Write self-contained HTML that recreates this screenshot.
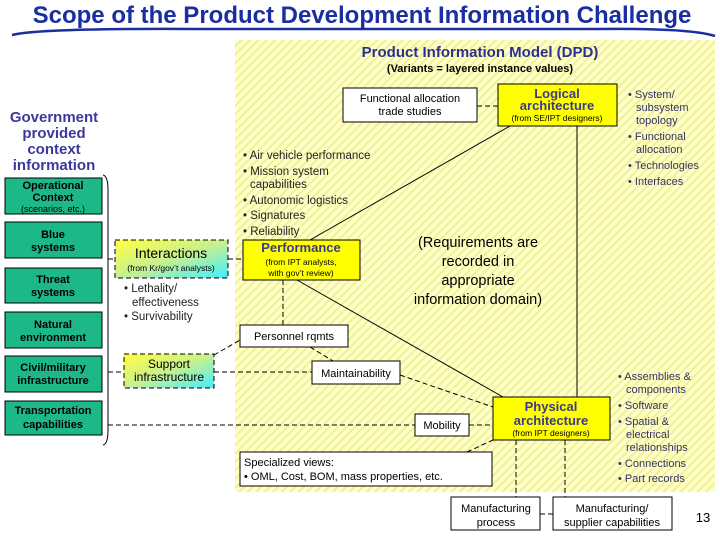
<!DOCTYPE html>
<html><head><meta charset="utf-8"><style>
body{margin:0;background:#fff;}
svg{display:block;font-family:"Liberation Sans",Arial,sans-serif;}
</style></head><body>
<svg width="720" height="540" viewBox="0 0 720 540" xmlns="http://www.w3.org/2000/svg">
<defs>
<pattern id="h" width="6" height="6" patternUnits="userSpaceOnUse" patternTransform="rotate(45)">
<rect width="6" height="6" fill="#ffffc8"/><rect width="2" height="6" fill="#f0f098"/>
</pattern>
<linearGradient id="g" x1="0" y1="0" x2="1" y2="1">
<stop offset="0" stop-color="#ffff40"/><stop offset="0.5" stop-color="#c8f090"/><stop offset="1" stop-color="#40f0ff"/>
</linearGradient>
</defs>
<text x="362" y="23" text-anchor="middle" font-size="24" font-weight="bold" fill="#1a2ea0">Scope of the Product Development Information Challenge</text>
<path d="M12,35 Q40,28 200,29 L600,29 Q690,28 715,36" stroke="#1a2ea0" stroke-width="2.5" fill="none"/>
<rect x="235" y="40" width="480" height="452" fill="url(#h)"/>
<text x="480" y="57" text-anchor="middle" font-size="15" font-weight="bold" fill="#2a3090">Product Information Model (DPD)</text>
<text x="480" y="72" text-anchor="middle" font-size="11" font-weight="bold">(Variants = layered instance values)</text>

<g font-size="12" fill="#3a3a9a" font-weight="bold" text-anchor="middle">
<text x="54" y="122" font-size="15">Government</text><text x="54" y="138" font-size="15">provided</text><text x="54" y="154" font-size="15">context</text><text x="54" y="170" font-size="15">information</text>
</g>
<g stroke="#000" stroke-width="1" fill="#1cb888">
<rect x="5" y="178" width="97" height="36"/><rect x="5" y="222" width="97" height="36"/><rect x="5" y="268" width="97" height="35"/>
<rect x="5" y="312" width="97" height="36"/><rect x="5" y="356" width="97" height="36"/><rect x="5" y="401" width="97" height="34"/>
</g>
<g font-size="11" font-weight="bold" text-anchor="middle">
<text x="53" y="189">Operational</text><text x="53" y="201">Context</text><text x="53" y="212" font-size="9" font-weight="normal">(scenarios, etc.)</text>
<text x="53" y="238">Blue</text><text x="53" y="251">systems</text>
<text x="53" y="283">Threat</text><text x="53" y="296">systems</text>
<text x="53" y="328">Natural</text><text x="53" y="341">environment</text>
<text x="53" y="371">Civil/military</text><text x="53" y="384">infrastructure</text>
<text x="53" y="414">Transportation</text><text x="53" y="428">capabilities</text>
</g>
<path d="M103,175 Q108,176 108,190 L108,430 Q108,444 103,445" stroke="#000" fill="none"/>

<g stroke="#000" stroke-width="1" fill="none">
<line x1="510" y1="126" x2="310" y2="240"/>
<line x1="577" y1="126" x2="577" y2="397"/>
<line x1="297" y1="280" x2="503" y2="397"/>
</g>
<g stroke="#000" stroke-width="1" fill="none" stroke-dasharray="5,3">
<line x1="477" y1="106" x2="498" y2="106"/>
<line x1="108" y1="259" x2="115" y2="259"/>
<line x1="228" y1="259" x2="243" y2="259"/>
<line x1="283" y1="280" x2="283" y2="325"/>
<line x1="310" y1="347" x2="333" y2="361"/>
<line x1="214" y1="355" x2="240" y2="340"/>
<line x1="108" y1="372" x2="124" y2="372"/>
<line x1="214" y1="372" x2="312" y2="372"/>
<line x1="400" y1="375" x2="493" y2="407"/>
<line x1="108" y1="425" x2="415" y2="425"/>
<line x1="469" y1="425" x2="493" y2="425"/>
<line x1="467" y1="452" x2="493" y2="440"/>
<line x1="516" y1="440" x2="516" y2="497"/>
<line x1="565" y1="440" x2="565" y2="497"/>
<line x1="540" y1="514" x2="553" y2="514"/>
<rect x="115" y="240" width="113" height="38" fill="url(#g)"/>
<rect x="124" y="354" width="90" height="34" fill="url(#g)"/>
</g>
<g stroke="#000" stroke-width="1" fill="#fff">
<rect x="343" y="88" width="134" height="34"/>
<rect x="240" y="325" width="108" height="22"/>
<rect x="312" y="361" width="88" height="23"/>
<rect x="415" y="414" width="54" height="22"/>
<rect x="240" y="452" width="252" height="34"/>
<rect x="451" y="497" width="89" height="33"/>
<rect x="553" y="497" width="119" height="33"/>
<rect x="498" y="84" width="119" height="42" fill="#ffff00"/>
<rect x="243" y="240" width="117" height="40" fill="#ffff00"/>
<rect x="493" y="397" width="117" height="43" fill="#ffff00"/>
</g>
<g font-size="11" text-anchor="middle">
<text x="410" y="102">Functional allocation</text><text x="410" y="115">trade studies</text>
<text x="557" y="98" font-size="13" font-weight="bold" fill="#3a3a8a">Logical</text>
<text x="557" y="110" font-size="13" font-weight="bold" fill="#3a3a8a">architecture</text>
<text x="557" y="121" font-size="8.5">(from SE/IPT designers)</text>
<text x="301" y="252" font-size="13" font-weight="bold" fill="#3a3a8a">Performance</text>
<text x="301" y="265" font-size="8.5">(from IPT analysts,</text><text x="301" y="276" font-size="8.5">with gov’t review)</text>
<text x="171" y="258" font-size="14">Interactions</text>
<text x="171" y="271" font-size="8.5">(from Kr/gov’t analysts)</text>
<text x="169" y="368" font-size="12">Support</text><text x="169" y="381" font-size="12">infrastructure</text>
<text x="294" y="340">Personnel rqmts</text>
<text x="356" y="377">Maintainability</text>
<text x="442" y="429">Mobility</text>
<text x="551" y="411" font-size="13" font-weight="bold" fill="#3a3a8a">Physical</text>
<text x="551" y="425" font-size="13" font-weight="bold" fill="#3a3a8a">architecture</text>
<text x="551" y="436" font-size="8.5">(from IPT designers)</text>
<text x="496" y="512">Manufacturing</text><text x="496" y="526">process</text>
<text x="612" y="512">Manufacturing/</text><text x="612" y="526">supplier capabilities</text>
<text x="478" y="247" font-size="14.5">(Requirements are</text>
<text x="478" y="266" font-size="14.5">recorded in</text>
<text x="478" y="285" font-size="14.5">appropriate</text>
<text x="478" y="304" font-size="14.5">information domain)</text>
</g>
<g font-size="11">
<text x="244" y="466">Specialized views:</text><text x="244" y="480">• OML, Cost, BOM, mass properties, etc.</text>
<text x="703" y="522" font-size="13" text-anchor="middle">13</text>
</g>
<g font-size="11.5" fill="#222">
<text x="243" y="159">• Air vehicle performance</text>
<text x="243" y="175">• Mission system</text><text x="250" y="188">capabilities</text>
<text x="243" y="204">• Autonomic logistics</text>
<text x="243" y="219">• Signatures</text>
<text x="243" y="235">• Reliability</text>
<text x="124" y="292">• Lethality/</text><text x="132" y="306">effectiveness</text>
<text x="124" y="320">• Survivability</text>
</g>
<g font-size="11" fill="#333366">
<text x="628" y="98">• System/</text><text x="636" y="111">subsystem</text><text x="636" y="124">topology</text>
<text x="628" y="140">• Functional</text><text x="636" y="153">allocation</text>
<text x="628" y="169">• Technologies</text><text x="628" y="185">• Interfaces</text>
<text x="618" y="380">• Assemblies &amp;</text><text x="626" y="393">components</text>
<text x="618" y="409">• Software</text>
<text x="618" y="425">• Spatial &amp;</text><text x="626" y="438">electrical</text><text x="626" y="451">relationships</text>
<text x="618" y="467">• Connections</text><text x="618" y="482">• Part records</text>
</g>
</svg>
</body></html>
